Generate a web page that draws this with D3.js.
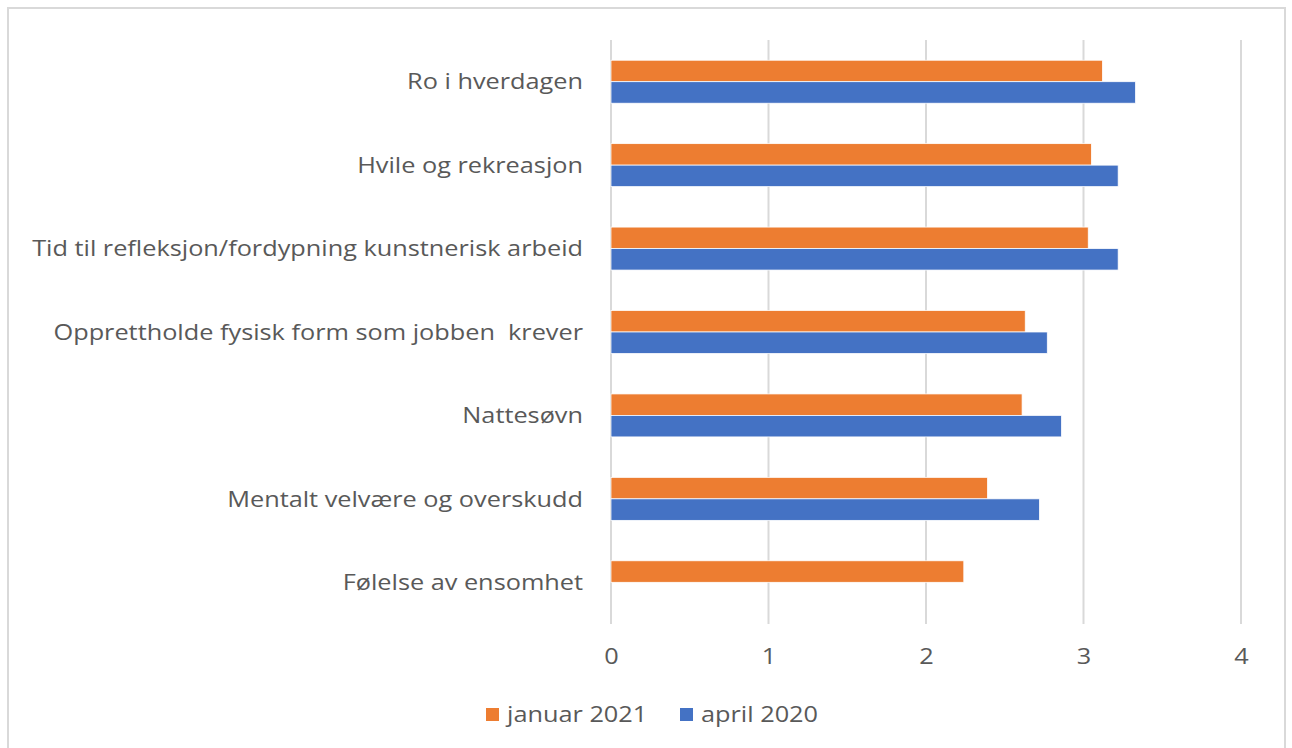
<!DOCTYPE html>
<html lang="no">
  <head>
    <meta charset="UTF-8">
    <title>Januar 2021 / april 2020</title>
    <style>
body {margin: 0; background: #fff;}
text {font-family: "Open Sans", "Noto Sans", sans-serif; fill: #595959;}
</style>
  </head>
  <body>
<div id="my_dataviz"></div>
<script src="https://d3js.org/d3.v7.min.js"></script>
<script>

// data
var categories = [
  "Ro i hverdagen",
  "Hvile og rekreasjon",
  "Tid til refleksjon/fordypning kunstnerisk arbeid",
  "Opprettholde fysisk form som jobben  krever",
  "Nattesøvn",
  "Mentalt velvære og overskudd",
  "Følelse av ensomhet"
];
var januar2021 = [3.12, 3.05, 3.03, 2.63, 2.61, 2.39, 2.24];
var april2020 = [3.33, 3.22, 3.22, 2.77, 2.86, 2.72, null];
var seriesNames = ["januar 2021", "april 2020"];
var seriesColors = ["#ED7D31", "#4472C4"];
var xTicks = [0, 1, 2, 3, 4];

var W = 1292, H = 748;
var margin = {top: 40, right: 51, bottom: 124, left: 611},
    width = W - margin.left - margin.right,
    height = H - margin.top - margin.bottom;

// the text in the picture is a bit wider than the font, stretch it
var stretch = 1.15;
var fontSize = "22px";

var svg = d3.select("#my_dataviz")
  .append("svg")
    .attr("width", W)
    .attr("height", H);

// chart frame
svg.append("rect")
  .attr("x", 8).attr("y", 8)
  .attr("width", 1277).attr("height", 760)
  .attr("fill", "none")
  .attr("stroke", "#D9D9D9")
  .attr("stroke-width", 2);

var g = svg.append("g")
  .attr("transform", "translate(" + margin.left + "," + margin.top + ")");

var x = d3.scaleLinear().domain([0, 4]).range([0, width]);
var y = d3.scaleBand().domain(categories).range([0, height]).paddingInner(0.485).paddingOuter(0.2425);
var ySub = d3.scaleBand().domain(seriesNames).range([0, y.bandwidth()]);

// gridlines
g.selectAll(".grid")
  .data(xTicks)
  .enter().append("line")
    .attr("x1", function(d) { return x(d); })
    .attr("x2", function(d) { return x(d); })
    .attr("y1", 0)
    .attr("y2", height)
    .attr("stroke", "#D9D9D9")
    .attr("stroke-width", 2);

// x axis
var xAxis = g.append("g")
  .attr("transform", "translate(0," + height + ")")
  .call(d3.axisBottom(x).tickValues(xTicks).tickSize(0).tickPadding(24).tickFormat(d3.format("d")));
xAxis.select(".domain").remove();
xAxis.selectAll("text")
  .style("font-size", fontSize)
  .attr("fill", "#595959")
  .attr("transform", "scale(" + stretch + ",1)")
  .attr("x", 0);

// y labels
g.selectAll(".cat")
  .data(categories)
  .enter().append("text")
    .attr("transform", function(d) {
      return "translate(-28," + (y(d) + y.bandwidth() / 2) + ") scale(" + stretch + ",1)";
    })
    .attr("dy", "0.35em")
    .attr("text-anchor", "end")
    .style("font-size", fontSize)
    .style("white-space", "pre")
    .text(function(d) { return d; });

// bars
var series = [januar2021, april2020];
series.forEach(function(vals, si) {
  g.selectAll(".bar" + si)
    .data(categories.map(function(c, i) { return {cat: c, value: vals[i]}; })
      .filter(function(d) { return d.value != null; }))
    .enter().append("rect")
      .attr("x", x(0))
      .attr("y", function(d) { return y(d.cat) + ySub(seriesNames[si]); })
      .attr("width", function(d) { return x(d.value) - x(0); })
      .attr("height", ySub.bandwidth())
      .attr("fill", seriesColors[si])
      .attr("stroke", "#fff")
      .attr("stroke-width", 0.75);
});

// legend
var legendPos = [486, 680];
var legend = svg.selectAll(".legend")
  .data(seriesNames)
  .enter().append("g")
    .attr("transform", function(d, i) { return "translate(" + legendPos[i] + ",714)"; });
legend.append("rect")
  .attr("x", 0).attr("y", -6)
  .attr("width", 13).attr("height", 13)
  .attr("fill", function(d, i) { return seriesColors[i]; });
legend.append("text")
  .attr("transform", "translate(21,0) scale(" + stretch + ",1)")
  .attr("dy", "0.35em")
  .style("font-size", fontSize)
  .text(function(d) { return d; });

</script>
  </body>
</html>
